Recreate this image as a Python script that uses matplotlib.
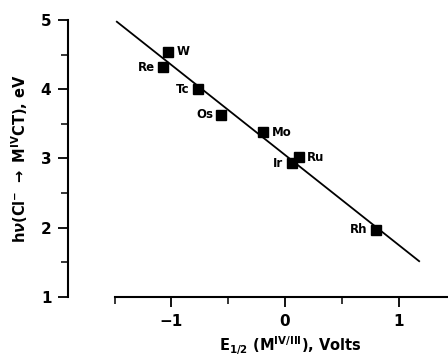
import matplotlib.pyplot as plt
from matplotlib.ticker import MultipleLocator

# E1/2 (M IV/III) in volts and charge-transfer energy in eV
metals = ["W", "Re", "Tc", "Os", "Mo", "Ru", "Ir", "Rh"]
e_half = [-1.03, -1.07, -0.77, -0.56, -0.19, 0.12, 0.06, 0.80]
energy = [4.54, 4.32, 4.00, 3.63, 3.38, 3.02, 2.93, 1.97]
# which side the element label sits on
label_side = ["r", "l", "l", "l", "r", "r", "l", "l"]

# least-squares line as drawn in the figure
fit_x = [-1.48, 1.18]
fit_slope = -1.30
fit_icpt = 3.05

plt.rcParams["font.family"] = ["DejaVu Sans"]
plt.rcParams["font.weight"] = "bold"

fig = plt.figure(figsize=(4.48, 3.56), dpi=100)
ax = fig.add_axes([0.152, 0.166, 0.848, 0.778])

fit_y = [fit_slope * x + fit_icpt for x in fit_x]
ax.plot(fit_x, fit_y, color="black", lw=1.3, zorder=2)
ax.plot(e_half, energy, "s", color="black", ms=6.5, zorder=3)

for m, x, y, s in zip(metals, e_half, energy, label_side):
    if s == "r":
        ax.annotate(m, (x, y), xytext=(6, 0), textcoords="offset points",
                    ha="left", va="center", fontsize=8.5, fontweight="bold")
    else:
        ax.annotate(m, (x, y), xytext=(-6, 0), textcoords="offset points",
                    ha="right", va="center", fontsize=8.5, fontweight="bold")

ax.set_xlim(-1.909, 1.434)
ax.set_ylim(1, 5)

for sp in ["top", "right"]:
    ax.spines[sp].set_visible(False)
ax.spines["left"].set_bounds(1, 5)
ax.spines["bottom"].set_bounds(-1.5, 1.434)
ax.spines["left"].set_linewidth(1.5)
ax.spines["bottom"].set_linewidth(1.5)

ax.xaxis.set_major_locator(MultipleLocator(1))
ax.xaxis.set_minor_locator(MultipleLocator(0.5))
ax.yaxis.set_major_locator(MultipleLocator(1))
ax.yaxis.set_minor_locator(MultipleLocator(0.5))
ax.tick_params(which="major", direction="out", length=7, width=1.3, labelsize=11, pad=5)
ax.tick_params(which="minor", direction="out", length=5, width=1.1)
ax.set_xticks([-1, 0, 1])
ax.set_xticklabels(["\u22121", "0", "1"])
ax.set_yticks([1, 2, 3, 4, 5])

ax.set_ylabel(r"h$\nu$(Cl$^{-}$ $\rightarrow$ M$^{\rm IV}$CT), eV", fontsize=10.5, fontweight="bold", labelpad=8)
ax.set_xlabel(r"E$_{1/2}$ (M$^{\rm IV/III}$), Volts", fontsize=10.5, fontweight="bold")
ax.xaxis.set_label_coords(0.584, -0.135)

fig.savefig("out.png", dpi=100)
